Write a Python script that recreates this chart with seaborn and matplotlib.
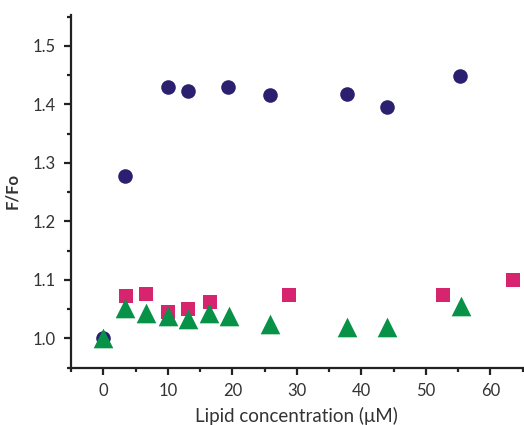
import numpy as np
import pandas as pd
import matplotlib.pyplot as plt
import seaborn as sns
from matplotlib.ticker import MultipleLocator

# F/Fo versus lipid concentration, three series
circle_x = [0, 3.4, 10.0, 13.1, 19.4, 25.9, 37.7, 43.9, 55.3]
circle_y = [1.000, 1.278, 1.430, 1.423, 1.429, 1.416, 1.418, 1.395, 1.449]

square_x = [3.6, 6.6, 10.0, 13.1, 16.5, 28.8, 52.7, 63.5]
square_y = [1.072, 1.076, 1.045, 1.050, 1.063, 1.075, 1.075, 1.099]

triangle_x = [0, 3.4, 6.7, 10.0, 13.1, 16.4, 19.5, 25.9, 37.7, 43.9, 55.4]
triangle_y = [1.000, 1.052, 1.043, 1.039, 1.033, 1.043, 1.038, 1.025, 1.020, 1.020, 1.056]

df = pd.concat([
    pd.DataFrame({"conc": square_x, "ratio": square_y, "series": "square"}),
    pd.DataFrame({"conc": circle_x, "ratio": circle_y, "series": "circle"}),
    pd.DataFrame({"conc": triangle_x, "ratio": triangle_y, "series": "triangle"}),
], ignore_index=True)

sns.set_style("ticks")
plt.rcParams["font.family"] = ["Lato", "DejaVu Sans"]

fig = plt.figure(figsize=(5.24, 4.25), dpi=100)
ax = fig.add_axes([0.1355, 0.135, 0.862, 0.83])

palette = {"circle": "#2b1f70", "square": "#d6246e", "triangle": "#079247"}
markers = {"circle": "o", "square": "s", "triangle": "^"}
sizes = {"circle": 110, "square": 95, "triangle": 200}

for name in ["square", "circle", "triangle"]:
    sub = df[df["series"] == name]
    sns.scatterplot(data=sub, x="conc", y="ratio", ax=ax, color=palette[name],
                    marker=markers[name], s=sizes[name], linewidth=0,
                    legend=False, zorder=3)

ax.set_xlim(-5, 65)
ax.set_ylim(0.95, 1.553)
ax.xaxis.set_major_locator(MultipleLocator(10))
ax.xaxis.set_minor_locator(MultipleLocator(5))
ax.yaxis.set_major_locator(MultipleLocator(0.1))
ax.yaxis.set_minor_locator(MultipleLocator(0.05))
ax.yaxis.set_major_formatter(plt.FuncFormatter(lambda v, p: f"{v:.1f}"))

for side in ["top", "right"]:
    ax.spines[side].set_visible(False)
for side in ["left", "bottom"]:
    ax.spines[side].set_linewidth(1.6)
    ax.spines[side].set_color("#222222")

ax.tick_params(which="major", length=5, width=1.6, color="#222222",
               labelsize=12, labelcolor="#333333", pad=6)
ax.tick_params(which="minor", length=3, width=1.6, color="#222222")

ax.set_xlabel("Lipid concentration (\u03bcM)", fontsize=13.5, color="#333333", labelpad=6)
ax.set_ylabel("F/Fo", fontsize=12, color="#333333", fontweight="bold", labelpad=9)

fig.savefig("out.png", dpi=100)
